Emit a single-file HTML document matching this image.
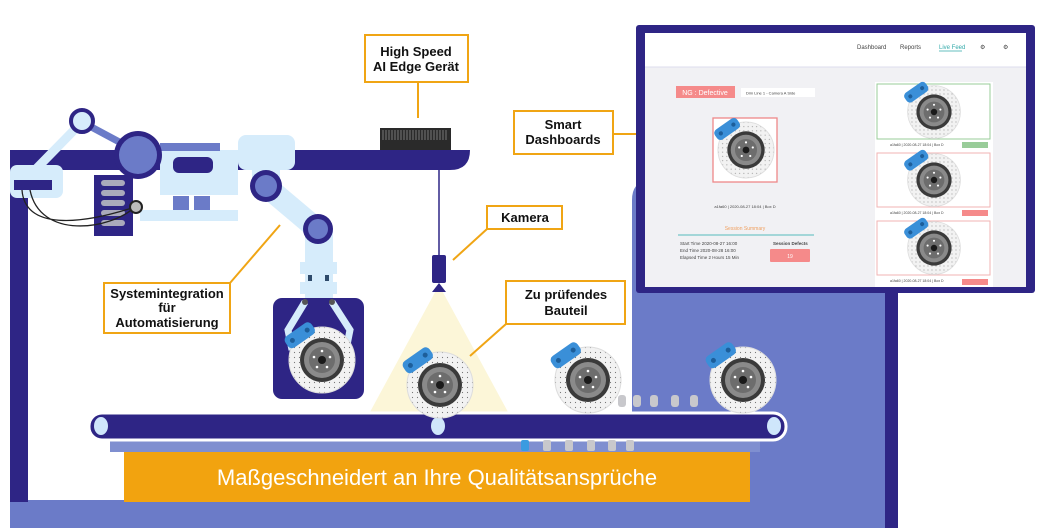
<!DOCTYPE html>
<html><head><meta charset="utf-8"><style>
html,body{margin:0;padding:0;background:#fff;width:1043px;height:528px;overflow:hidden}
svg{display:block}
.lb{font-family:"Liberation Sans",sans-serif;font-weight:bold;font-size:13px;fill:#111;text-anchor:middle}
.s{font-family:"Liberation Sans",sans-serif;fill:#444}
</style></head><body>
<svg width="1043" height="528" viewBox="0 0 1043 528" xmlns="http://www.w3.org/2000/svg">
<defs>
<pattern id="dots" width="5" height="5" patternUnits="userSpaceOnUse"><rect width="5" height="5" fill="#f2f2f2"/><circle cx="2.5" cy="2.5" r="0.6" fill="#777"/></pattern>
<g id="disc">
<circle r="33" fill="url(#dots)" stroke="#ddd"/>
<circle r="22" fill="#3a3a3a"/>
<circle r="18" fill="#8a8a8a"/>
<circle r="13" fill="#6d6d6d"/>
<circle r="4" fill="#1a1a1a"/>
<circle cx="0" cy="-9" r="1.3" fill="#fff"/><circle cx="8" cy="-3" r="1.3" fill="#fff"/><circle cx="5" cy="7" r="1.3" fill="#fff"/><circle cx="-5" cy="7" r="1.3" fill="#fff"/><circle cx="-8" cy="-3" r="1.3" fill="#fff"/>
<g transform="rotate(-35)"><rect x="-20" y="-40" width="32" height="14" rx="5" fill="#3a8fd8"/><circle cx="-13" cy="-33" r="2.5" fill="#1d5e9a"/><circle cx="5" cy="-33" r="2.5" fill="#1d5e9a"/></g>
</g>
</defs>
<path d="M632,200 Q632,180 652,180 L885,180 L885,528 L10,528 L10,500 L632,500 Z" fill="#6b7bc8"/>
<rect x="885" y="293" width="13" height="235" fill="#2e2585"/>
<rect x="110" y="438" width="650" height="14" fill="#7f8fd0"/>
<rect x="10" y="150" width="18" height="352" fill="#2e2585"/>
<path d="M10,150 L470,150 Q470,170 450,170 L10,170 Z" fill="#2e2585"/>
<rect x="380" y="128" width="71" height="22" fill="#2a2a2a"/>
<g stroke="#999" stroke-width="0.7"><path d="M383,130v10M386,130v10M389,130v10M392,130v10M395,130v10M398,130v10M401,130v10M404,130v10M407,130v10M410,130v10M413,130v10M416,130v10M419,130v10M422,130v10M425,130v10M428,130v10M431,130v10M434,130v10M437,130v10M440,130v10M443,130v10M446,130v10"/></g>
<line x1="439" y1="170" x2="439" y2="256" stroke="#2e2585" stroke-width="1.5"/>
<polygon points="439,285 370,412 508,412" fill="#fcf6d8"/>
<rect x="432" y="255" width="14" height="28" rx="2" fill="#2e2585"/>
<polygon points="439,283 432,292 446,292" fill="#2e2585"/>
<rect x="10" y="165" width="53" height="33" rx="7" fill="#d6ecfb"/>
<rect x="14" y="180" width="38" height="10" fill="#2e2585"/>
<line x1="35" y1="170" x2="82" y2="122" stroke="#d6ecfb" stroke-width="9"/>
<line x1="82" y1="122" x2="138" y2="152" stroke="#6b7bc8" stroke-width="7"/>
<circle cx="82" cy="121" r="11" fill="#d6ecfb" stroke="#2e2585" stroke-width="4"/>
<rect x="94" y="175" width="39" height="61" fill="#2e2585"/>
<g fill="#aab"><rect x="101" y="180" width="24" height="6" rx="3"/><rect x="101" y="190" width="24" height="6" rx="3"/><rect x="101" y="200" width="24" height="6" rx="3"/><rect x="101" y="210" width="24" height="6" rx="3"/><rect x="101" y="220" width="24" height="6" rx="3"/></g>
<rect x="160" y="150" width="78" height="45" fill="#d6ecfb"/>
<rect x="160" y="143" width="60" height="8" fill="#6b7bc8"/>
<rect x="173" y="157" width="40" height="16" rx="6" fill="#2e2585"/>
<rect x="173" y="196" width="16" height="14" fill="#6b7bc8"/><rect x="194" y="196" width="16" height="14" fill="#6b7bc8"/>
<rect x="140" y="210" width="98" height="11" fill="#d6ecfb"/>
<circle cx="138" cy="155" r="24" fill="#2e2585"/><circle cx="138" cy="155" r="19" fill="#6b7bc8"/>
<path d="M22,190 C25,230 80,225 135,207 M30,190 C40,240 110,230 135,207" stroke="#222" stroke-width="1.3" fill="none"/>
<circle cx="136" cy="207" r="6" fill="#bbb" stroke="#222" stroke-width="2"/>
<rect x="238" y="135" width="57" height="35" rx="8" fill="#d6ecfb"/>
<rect x="252" y="150" width="28" height="40" fill="#d6ecfb"/>
<line x1="267" y1="187" x2="318" y2="230" stroke="#d6ecfb" stroke-width="22"/>
<circle cx="266" cy="186" r="16" fill="#2e2585"/><circle cx="266" cy="186" r="11" fill="#6b7bc8"/>
<rect x="305" y="230" width="28" height="68" fill="#d6ecfb"/>
<rect x="300" y="262" width="37" height="12" fill="#d6ecfb"/><rect x="300" y="282" width="37" height="12" fill="#d6ecfb"/>
<rect x="308" y="275" width="4" height="6" fill="#2e4a6a"/><rect x="325" y="275" width="4" height="6" fill="#2e4a6a"/>
<circle cx="318" cy="229" r="15" fill="#2e2585"/><circle cx="318" cy="229" r="10" fill="#6b7bc8"/>
<rect x="273" y="298" width="91" height="101" rx="9" fill="#2e2585"/>
<path d="M305,302 L288,330 L292,350 M332,302 L350,330 L346,350" stroke="#d6ecfb" stroke-width="7" fill="none"/>
<circle cx="305" cy="302" r="3" fill="#555"/><circle cx="332" cy="302" r="3" fill="#555"/>
<use href="#disc" x="322" y="360"/>
<rect x="89" y="413" width="697" height="27" rx="13" fill="#2e2585" stroke="#fff" stroke-width="3"/>
<ellipse cx="101" cy="426" rx="7" ry="9" fill="#cfe6fb"/><ellipse cx="438" cy="426" rx="7" ry="9" fill="#cfe6fb"/><ellipse cx="774" cy="426" rx="7" ry="9" fill="#cfe6fb"/>
<g fill="#c8c8cc"><rect x="618" y="395" width="8" height="12" rx="3"/><rect x="633" y="395" width="8" height="12" rx="3"/><rect x="650" y="395" width="8" height="12" rx="3"/><rect x="671" y="395" width="8" height="12" rx="3"/><rect x="690" y="395" width="8" height="12" rx="3"/>
<rect x="543" y="440" width="8" height="11" rx="2"/><rect x="565" y="440" width="8" height="11" rx="2"/><rect x="587" y="440" width="8" height="11" rx="2"/><rect x="608" y="440" width="8" height="11" rx="2"/><rect x="626" y="440" width="8" height="11" rx="2"/></g>
<rect x="521" y="440" width="8" height="11" rx="2" fill="#3a9be0"/>
<use href="#disc" x="440" y="385"/>
<use href="#disc" x="588" y="380"/>
<use href="#disc" x="743" y="380"/>
<rect x="124" y="452" width="626" height="50" fill="#f2a30f"/>
<text x="437" y="485" font-family="Liberation Sans,sans-serif" font-size="22" fill="#fff" text-anchor="middle">Maßgeschneidert an Ihre Qualitätsansprüche</text>
<g stroke="#f0a514" stroke-width="2" fill="none">
<line x1="418" y1="82" x2="418" y2="118"/>
<line x1="230" y1="283" x2="280" y2="225"/>
<line x1="487" y1="229" x2="453" y2="260"/>
<line x1="506" y1="324" x2="470" y2="356"/>
<line x1="613" y1="134" x2="640" y2="134"/>
</g>
<g fill="#fff" stroke="#f0a514" stroke-width="2">
<rect x="365" y="35" width="103" height="47"/>
<rect x="104" y="283" width="126" height="50"/>
<rect x="487" y="206" width="75" height="23"/>
<rect x="506" y="281" width="119" height="43"/>
<rect x="514" y="111" width="99" height="43"/>
</g>
<text class="lb" x="416" y="56">High Speed</text><text class="lb" x="416" y="71">AI Edge Gerät</text>
<text class="lb" x="167" y="298">Systemintegration</text><text class="lb" x="167" y="312">für</text><text class="lb" x="167" y="327">Automatisierung</text>
<text class="lb" x="525" y="222">Kamera</text>
<text class="lb" x="566" y="299">Zu prüfendes</text><text class="lb" x="566" y="315">Bauteil</text>
<text class="lb" x="563" y="129">Smart</text><text class="lb" x="563" y="144">Dashboards</text>
<rect x="636" y="25" width="399" height="268" rx="3" fill="#2e2585"/>
<rect x="645" y="33" width="381" height="254" fill="#f1f1f4"/>
<rect x="645" y="33" width="381" height="34" fill="#fff"/>
<line x1="645" y1="67" x2="1026" y2="67" stroke="#dde"/>
<g class="s" font-size="6"><text x="857" y="49">Dashboard</text><text x="900" y="49">Reports</text><text x="939" y="49" fill="#3aa">Live Feed</text><text x="980" y="49">⚙</text><text x="1003" y="49">⚙</text></g>
<line x1="939" y1="51" x2="962" y2="51" stroke="#3aa" stroke-width="0.7"/>
<rect x="676" y="86" width="59" height="12" fill="#f58a8a"/>
<text x="705" y="95" font-family="Liberation Sans,sans-serif" font-size="7" fill="#fff" text-anchor="middle">NG : Defective</text>
<rect x="741" y="88" width="74" height="9" fill="#fff"/>
<text x="746" y="94.5" class="s" font-size="4">Dim Line 1 - Camera A Side</text>
<rect x="713" y="118" width="64" height="64" fill="#fff" stroke="#e88" stroke-width="1.3"/>
<use href="#disc" transform="translate(746,150) scale(0.85)"/>
<text x="745" y="208" class="s" font-size="4" text-anchor="middle">a1fa60 | 2020-08-27 18:04 | Box D</text>
<text x="745" y="230" font-family="Liberation Sans,sans-serif" font-size="5" fill="#f0a060" text-anchor="middle">Session Summary</text>
<line x1="678" y1="235" x2="814" y2="235" stroke="#5bb" stroke-width="1"/>
<g class="s" font-size="4.5"><text x="680" y="245">Start Time   2020-08-27 16:00</text><text x="680" y="252">End Time    2020-08-28 16:00</text><text x="680" y="259">Elapsed Time 2 Hours 15 Min</text><text x="773" y="245" font-weight="bold">Session Defects</text></g>
<rect x="770" y="249" width="40" height="13" rx="1" fill="#f58a8a"/>
<text x="790" y="258" font-family="Liberation Sans,sans-serif" font-size="5" fill="#fff" text-anchor="middle">19</text>
<rect x="875" y="82" width="118" height="205" fill="#fff"/>
<rect x="877" y="84" width="113" height="55" fill="#fff" stroke="#9c9" stroke-width="1"/>
<rect x="877" y="153" width="113" height="54" fill="#fff" stroke="#f2b3b3" stroke-width="1"/>
<rect x="877" y="221" width="113" height="54" fill="#fff" stroke="#f2b3b3" stroke-width="1"/>
<use href="#disc" transform="translate(934,112) scale(0.8)"/>
<use href="#disc" transform="translate(934,180) scale(0.8)"/>
<use href="#disc" transform="translate(934,248) scale(0.8)"/>
<g class="s" font-size="3.5"><text x="890" y="146">a1fa60 | 2020-08-27 18:04 | Box D</text><text x="890" y="214">a1fa60 | 2020-08-27 18:04 | Box D</text><text x="890" y="282">a1fa60 | 2020-08-27 18:04 | Box D</text></g>
<rect x="962" y="142" width="26" height="6" fill="#9c9"/><rect x="962" y="210" width="26" height="6" fill="#f58a8a"/><rect x="962" y="279" width="26" height="6" fill="#f58a8a"/>
</svg>
</body></html>
